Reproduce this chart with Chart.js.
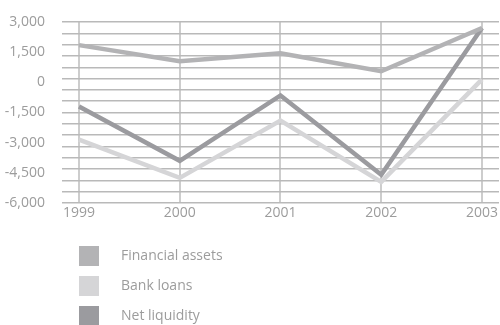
<!DOCTYPE html>
<html>
<head>
<meta charset="utf-8">
<script src="https://cdn.jsdelivr.net/npm/chart.js@4"></script>
<style>
  html, body { margin: 0; padding: 0; background: #fff; }
  #wrap { width: 500px; height: 325px; }
</style>
</head>
<body>
<div id="wrap"><canvas id="chart" width="500" height="325"></canvas></div>
<script>
const years = ['1999', '2000', '2001', '2002', '2003'];
const financialAssets = [1850, 1050, 1450, 550, 2700];
const bankLoans = [-2850, -4750, -1900, -4950, 150];
const netLiquidity = [-1200, -3900, -650, -4600, 2700];
const yMin = -6000;
const yMax = 3000;
const labelStep = 1500;
const gridStep = 562.5;

const textColor = '#9c9c9c';
const hGrid = '#b9b9b9';
const font = { family: "'Open Sans', sans-serif", size: 14 };

// legend drawn on the canvas, stacked under the plot
const stackedLegend = {
    id: 'stackedLegend',
    afterDraw(chart) {
        const ctx = chart.ctx;
        ctx.save();
        ctx.font = font.size + 'px ' + font.family;
        ctx.textBaseline = 'middle';
        chart.data.datasets.forEach((ds, i) => {
            const top = 246 + i * 30;
            ctx.fillStyle = ds.borderColor;
            ctx.fillRect(79, top, 20, 20);
            ctx.fillStyle = textColor;
            ctx.fillText(ds.label, 121, top + 10);
        });
        ctx.restore();
    }
};

const ctx = document.getElementById('chart').getContext('2d');
new Chart(ctx, {
    type: 'line',
    data: {
        labels: years,
        datasets: [
            { label: 'Financial assets', data: financialAssets, borderColor: '#b3b3b5' },
            { label: 'Bank loans', data: bankLoans, borderColor: '#d5d5d7' },
            { label: 'Net liquidity', data: netLiquidity, borderColor: '#9b9b9f' }
        ].map(d => Object.assign(d, {
            borderWidth: 4.5,
            pointRadius: 0,
            tension: 0,
            fill: false,
            borderJoinStyle: 'miter',
            yAxisID: 'yg'
        }))
    },
    options: {
        responsive: false,
        animation: false,
        layout: { padding: { top: 22, bottom: 102, left: 0, right: 0 } },
        plugins: { legend: { display: false }, tooltip: { enabled: false } },
        scales: {
            x: {
                offset: false,
                border: { display: false },
                grid: { color: '#cdcdcd', lineWidth: 2, drawTicks: false },
                ticks: { color: textColor, font: font, padding: 2, maxRotation: 0 },
                afterFit: s => { s.height = 20; }
            },
            y: {
                position: 'left',
                weight: 2,
                min: yMin, max: yMax,
                border: { display: false },
                grid: { display: false },
                ticks: {
                    stepSize: labelStep,
                    color: textColor, font: font, padding: 9,
                    callback: v => v.toLocaleString('en-US')
                },
                afterFit: s => { s.width = 62; }
            },
            ystub: {
                position: 'left',
                weight: 1,
                min: yMin, max: yMax,
                border: { display: false },
                grid: { color: hGrid, lineWidth: 1.5, drawOnChartArea: false, tickLength: 17 },
                ticks: { stepSize: gridStep, display: false },
                afterFit: s => { s.width = 17; }
            },
            yg: {
                position: 'right',
                min: yMin, max: yMax,
                border: { display: false },
                grid: { color: hGrid, lineWidth: 1.5, tickLength: 17 },
                ticks: { stepSize: gridStep, display: false },
                afterFit: s => { s.width = 17; }
            }
        }
    },
    plugins: [stackedLegend]
});
</script>
</body>
</html>
